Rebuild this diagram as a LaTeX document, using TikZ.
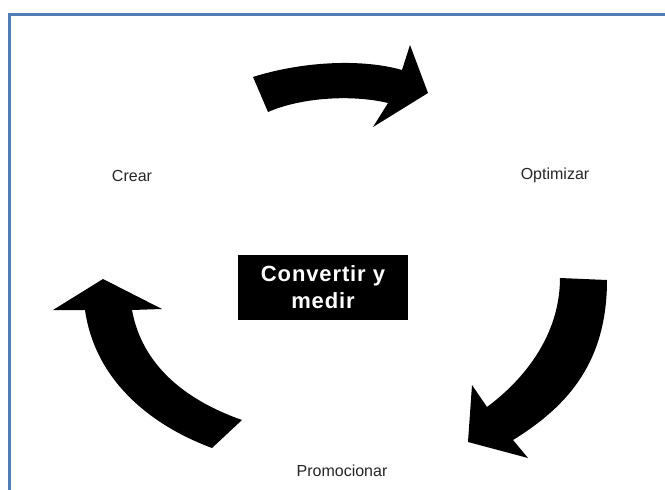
\documentclass[tikz,border=0pt]{standalone}
\usepackage{fontspec}
\setmainfont{Liberation Sans}
\definecolor{framecol}{RGB}{79,125,180}
\tikzset{
  cycarrow/.style={fill=black},
  steplabel/.style={text=black!85, font=\fontsize{16}{18}\selectfont},
  centerbox/.style={fill=black, text=white, align=center, minimum width=170pt, minimum height=65pt,
    font=\fontsize{22}{27}\selectfont\bfseries\addfontfeature{LetterSpace=4}}
}
\begin{document}
\begin{tikzpicture}[x=1pt,y=-1pt]
  \useasboundingbox (0,0) rectangle (665,490);
  \fill[white] (0,0) rectangle (665,490);
  % frame
  \draw[framecol, line width=2.5pt] (665,14.5) -- (9.5,14.5) -- (9.5,490);
  % labels
  \node[steplabel] (crear) at (132,176) {Crear};
  \node[steplabel] (optim) at (555,175) {Optimizar};
  \node[steplabel] (promo) at (342,471) {Promocionar};
  \node[centerbox] (conv) at (323,287.5) {Convertir y\\medir};
  % arrows
  \fill[cycarrow] (253,77) .. controls (300,62) and (360,58) .. (402,70) -- (410,45) -- (428,93)
    -- (373,127) -- (388,103) .. controls (350,94) and (300,98) .. (268,112) -- cycle;
  \fill[cycarrow] (560,278) -- (607,280) .. controls (607,360) and (570,405) .. (513,440)
    -- (528,458) -- (468,442) -- (472,385) -- (487,407) .. controls (530,375) and (560,330) .. (560,278) -- cycle;
  \fill[cycarrow] (53,310) -- (103,279) -- (162,309) -- (132,310) .. controls (142,365) and (185,400) .. (242,420)
    -- (212,448) .. controls (150,425) and (95,380) .. (85,310) -- cycle;
\end{tikzpicture}
\end{document}
